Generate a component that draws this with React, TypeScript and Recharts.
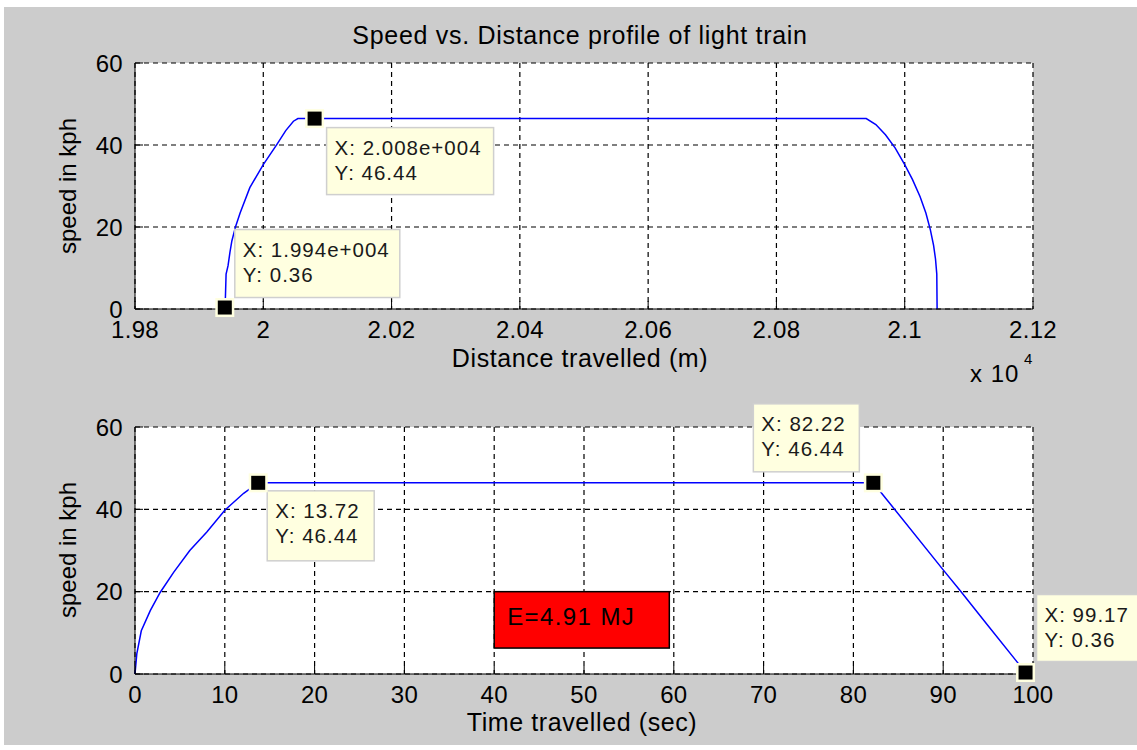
import { LineChart, Line, XAxis, YAxis, CartesianGrid, ReferenceDot, ReferenceArea } from 'recharts'

// speed vs distance (m, kph)
const distance = [
  19940, 19941, 19942, 19945, 19948, 19951, 19957, 19964, 19979, 20000, 20021, 20035, 20047, 20054,
  20940, 20955, 20970, 20985, 21000, 21012, 21024, 21033, 21040, 21045, 21048, 21050, 21050.5,
]
const speedByDistance = [
  0.36, 3, 8.5, 10.5, 13.8, 16.6, 20.2, 23.5, 29.6, 35.2, 40.1, 43.5, 45.8, 46.44,
  46.44, 45.0, 42.5, 39.3, 35.2, 31.6, 27.4, 23.4, 19.3, 15.5, 12.2, 8.5, 0,
]

// speed vs time (sec, kph)
const time = [0, 0.2, 0.7, 1.7, 2.8, 4.3, 6.1, 8, 10, 12.1, 13.72, 82.22, 83.3, 90, 91.9, 95, 98.2, 99.17]
const speedByTime = [0, 4.9, 10.5, 15.4, 19.8, 24.7, 30, 34.5, 39.8, 43.9, 46.44, 46.44, 43.5, 25.3, 20.2, 11.7, 3.0, 0.36]

const distanceTicks = [19800, 20000, 20200, 20400, 20600, 20800, 21000, 21200]
const timeTicks = [0, 10, 20, 30, 40, 50, 60, 70, 80, 90, 100]
const speedTicks = [0, 20, 40, 60]

// data tips
const distanceTipX = [19940, 20080]
const distanceTipY = [0.36, 46.44]
const timeTipX = [13.72, 82.22, 99.17]
const timeTipY = [46.44, 46.44, 0.36]

const energyText = 'E=4.91 MJ'
const energyX = [40, 59.5]
const energyY = [6.3, 20]

// box placement relative to the marker
const distanceTipBoxes = [
  { dx: 10, dy: -78, w: 165, h: 68 },
  { dx: 12, dy: 9, w: 167, h: 67 },
]
const timeTipBoxes = [
  { dx: 9, dy: 8, w: 107, h: 70 },
  { dx: -120, dy: -79, w: 106, h: 68 },
  { dx: 11, dy: -78, w: 106, h: 67 },
]

const FONT = '"Liberation Sans", Arial, Helvetica, sans-serif'
const GRID_DASH = '5 4'

const distanceData = distance.map((d, i) => ({ d, v: speedByDistance[i] }))
const timeData = time.map((t, i) => ({ t, v: speedByTime[i] }))

function matlabExp(v: number) {
  const [m, e] = v.toExponential(3).split('e')
  const sign = e[0] === '-' ? '-' : '+'
  return `${m}e${sign}${e.replace(/[+-]/, '').padStart(3, '0')}`
}

const fmtDistanceTick = (v: number) => String(parseFloat((v / 10000).toFixed(2)))

function tipShape(lines: string[], box: { dx: number; dy: number; w: number; h: number }) {
  return (props: any) => {
    const { cx, cy } = props
    const bx = cx + box.dx
    const by = cy + box.dy
    return (
      <g>
        <rect x={bx} y={by} width={box.w} height={box.h} fill="#ffffe0" stroke="#cfcfcf" strokeWidth={1.5} />
        {lines.map((l, i) => (
          <text
            key={i}
            x={bx + 8}
            y={by + 27 + i * 25}
            fontSize={20.5}
            letterSpacing={1}
            fontFamily={FONT}
            fill="#1a1a1a"
          >
            {l}
          </text>
        ))}
        <rect x={cx - 9.5} y={cy - 9.5} width={19} height={19} fill="#ffffe0" />
        <rect x={cx - 7} y={cy - 7} width={14} height={14} fill="#000" />
      </g>
    )
  }
}

const tickStyle = { fontSize: 24, fill: '#000', fontFamily: FONT, letterSpacing: 0.3 }

export default function App() {
  return (
    <div
      style={{
        position: 'absolute',
        left: 0,
        top: 0,
        width: 1137,
        height: 750,
        background: '#fff',
        fontFamily: FONT,
        overflow: 'hidden',
      }}
    >
      <div style={{ position: 'absolute', left: 4, top: 7, right: 0, bottom: 5, background: '#cccccc' }} />

      <div style={{ position: 'absolute', left: 0, top: 0 }}>
        <LineChart width={1137} height={400} data={distanceData} margin={{ top: 63, right: 104, bottom: 51, left: 75 }}>
          <CartesianGrid stroke="#000" strokeWidth={1.2} strokeDasharray={GRID_DASH} fill="#fff" fillOpacity={1} />
          <XAxis
            dataKey="d"
            type="number"
            domain={[19800, 21200]}
            ticks={distanceTicks}
            interval={0}
            tickFormatter={fmtDistanceTick}
            height={40}
            tickSize={-8}
            tickMargin={20}
            stroke="#000"
            tick={tickStyle}
          />
          <XAxis
            xAxisId="top"
            orientation="top"
            dataKey="d"
            type="number"
            domain={[19800, 21200]}
            ticks={distanceTicks}
            interval={0}
            height={0}
            tickSize={-8}
            tick={false}
            stroke="#000"
          />
          <YAxis
            type="number"
            domain={[0, 60]}
            ticks={speedTicks}
            interval={0}
            width={60}
            tickSize={-8}
            tickMargin={20}
            stroke="#000"
            tick={tickStyle}
          />
          <YAxis
            yAxisId="right"
            orientation="right"
            type="number"
            domain={[0, 60]}
            ticks={speedTicks}
            interval={0}
            width={0}
            tickSize={-8}
            tick={false}
            stroke="#000"
          />
          <Line dataKey="v" type="linear" stroke="#0000ff" strokeWidth={1.5} dot={false} isAnimationActive={false} />
          {distanceTipX.map((x, i) => (
            <ReferenceDot
              key={i}
              x={x}
              y={distanceTipY[i]}
              r={7}
              ifOverflow="visible"
              shape={tipShape([`X: ${matlabExp(x)}`, `Y: ${distanceTipY[i]}`], distanceTipBoxes[i])}
            />
          ))}
        </LineChart>
      </div>

      <div style={{ position: 'absolute', left: 0, top: 380 }}>
        <LineChart width={1137} height={370} data={timeData} margin={{ top: 47, right: 104, bottom: 36, left: 75 }}>
          <CartesianGrid stroke="#000" strokeWidth={1.2} strokeDasharray={GRID_DASH} fill="#fff" fillOpacity={1} />
          <XAxis
            dataKey="t"
            type="number"
            domain={[0, 100]}
            ticks={timeTicks}
            interval={0}
            height={40}
            tickSize={-8}
            tickMargin={20}
            stroke="#000"
            tick={tickStyle}
          />
          <XAxis
            xAxisId="top"
            orientation="top"
            dataKey="t"
            type="number"
            domain={[0, 100]}
            ticks={timeTicks}
            interval={0}
            height={0}
            tickSize={-8}
            tick={false}
            stroke="#000"
          />
          <YAxis
            type="number"
            domain={[0, 60]}
            ticks={speedTicks}
            interval={0}
            width={60}
            tickSize={-8}
            tickMargin={20}
            stroke="#000"
            tick={tickStyle}
          />
          <YAxis
            yAxisId="right"
            orientation="right"
            type="number"
            domain={[0, 60]}
            ticks={speedTicks}
            interval={0}
            width={0}
            tickSize={-8}
            tick={false}
            stroke="#000"
          />
          <ReferenceArea
            x1={energyX[0]}
            x2={energyX[1]}
            y1={energyY[0]}
            y2={energyY[1]}
            ifOverflow="visible"
            shape={(p: any) => (
              <g>
                <rect x={p.x} y={p.y} width={p.width} height={p.height} fill="#ff0000" stroke="#000" strokeWidth={1.5} />
                <text x={p.x + 13} y={p.y + 33} fontSize={24} letterSpacing={1.4} fontFamily={FONT} fill="#000">
                  {energyText}
                </text>
              </g>
            )}
          />
          <Line dataKey="v" type="linear" stroke="#0000ff" strokeWidth={1.5} dot={false} isAnimationActive={false} />
          {timeTipX.map((x, i) => (
            <ReferenceDot
              key={i}
              x={x}
              y={timeTipY[i]}
              r={7}
              ifOverflow="visible"
              shape={tipShape([`X: ${x}`, `Y: ${timeTipY[i]}`], timeTipBoxes[i])}
            />
          ))}
        </LineChart>
      </div>

      <svg
        width={1137}
        height={750}
        style={{ position: 'absolute', left: 0, top: 0, pointerEvents: 'none' }}
        fontFamily={FONT}
        fill="#000"
      >
        <text x={580} y={44} fontSize={25} letterSpacing={0.7} textAnchor="middle">
          Speed vs. Distance profile of light train
        </text>
        <text x={580} y={367} fontSize={25} letterSpacing={0.6} textAnchor="middle">
          Distance travelled (m)
        </text>
        <text x={970} y={382} fontSize={24} letterSpacing={1}>
          x 10
        </text>
        <text x={1024} y={364} fontSize={15}>
          4
        </text>
        <text x={582} y={731} fontSize={25} letterSpacing={0.6} textAnchor="middle">
          Time travelled (sec)
        </text>
        <text transform="translate(76,186) rotate(-90)" fontSize={24} textAnchor="middle">
          speed in kph
        </text>
        <text transform="translate(76,550) rotate(-90)" fontSize={24} textAnchor="middle">
          speed in kph
        </text>
      </svg>
    </div>
  )
}
